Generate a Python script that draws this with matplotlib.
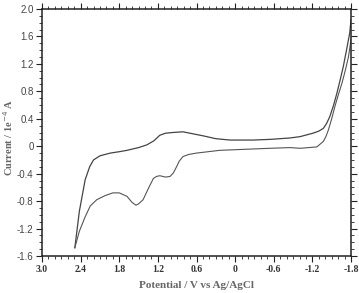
import matplotlib
matplotlib.use("Agg")
import matplotlib.pyplot as plt
from matplotlib.ticker import MultipleLocator, FixedLocator

# Anodic-to-cathodic (upper) branch: from the switching point at +2.49 V to -1.8 V
upper_potential = [2.49, 2.42, 2.33, 2.26, 2.20, 2.10, 1.94, 1.80, 1.68, 1.50, 1.37, 1.26,
                   1.17, 1.08, 0.97, 0.81, 0.65, 0.49, 0.30, 0.08, -0.28, -0.55, -0.85,
                   -1.01, -1.21, -1.30, -1.37, -1.42, -1.47, -1.53, -1.58, -1.63, -1.68,
                   -1.73, -1.78, -1.80]
upper_current = [-1.48, -0.95, -0.49, -0.30, -0.20, -0.14, -0.10, -0.08, -0.06, -0.02, 0.02, 0.08,
                 0.16, 0.19, 0.20, 0.21, 0.18, 0.15, 0.11, 0.09, 0.09, 0.10, 0.12,
                 0.14, 0.19, 0.22, 0.26, 0.33, 0.43, 0.60, 0.77, 0.96, 1.16,
                 1.40, 1.65, 1.84]

# Return (lower) branch: from -1.8 V back to +2.49 V
lower_potential = [-1.80, -1.76, -1.71, -1.66, -1.60, -1.55, -1.50, -1.45, -1.41, -1.37,
                   -1.27, -1.01, -0.85, -0.55, -0.28, 0.24, 0.60, 0.72, 0.81, 0.87,
                   0.91, 0.96, 1.01, 1.08, 1.17, 1.22, 1.27, 1.35, 1.43, 1.50, 1.54,
                   1.60, 1.68, 1.80, 1.90, 2.02, 2.15, 2.25, 2.33, 2.42, 2.49]
lower_current = [1.55, 1.30, 1.10, 0.92, 0.74, 0.58, 0.40, 0.24, 0.14, 0.07,
                 -0.01, -0.03, -0.02, -0.03, -0.04, -0.06, -0.10, -0.12, -0.15, -0.22,
                 -0.30, -0.39, -0.44, -0.45, -0.43, -0.44, -0.47, -0.62, -0.78, -0.84, -0.86,
                 -0.82, -0.73, -0.68, -0.68, -0.72, -0.78, -0.87, -1.03, -1.24, -1.48]

x_ticks = [3.0, 2.4, 1.8, 1.2, 0.6, 0.0, -0.6, -1.2, -1.8]
x_tick_labels = ["3.0", "2.4", "1.8", "1.2", "0.6", "0", "-0.6", "-1.2", "-1.8"]
y_ticks = [-1.6, -1.2, -0.8, -0.4, 0.0, 0.4, 0.8, 1.2, 1.6, 2.0]
y_tick_labels = ["-1.6", "-1.2", "-0.8", "-0.4", "0", "0.4", "0.8", "1.2", "1.6", "2.0"]

fig = plt.figure(figsize=(3.59, 2.93), dpi=100)
ax = fig.add_axes([42 / 359, 1 - 256 / 293, (351 - 42) / 359, (256 - 9) / 293])

ax.plot(upper_potential, upper_current, color="#444444", lw=0.9)
ax.plot(lower_potential, lower_current, color="#555555", lw=0.8)

ax.set_xlim(3.0, -1.8)
ax.set_ylim(-1.6, 2.0)

ax.xaxis.set_major_locator(FixedLocator(x_ticks))
ax.set_xticklabels(x_tick_labels)
ax.xaxis.set_minor_locator(MultipleLocator(0.1))
ax.yaxis.set_major_locator(FixedLocator(y_ticks))
ax.set_yticklabels(y_tick_labels)
ax.yaxis.set_minor_locator(MultipleLocator(0.1))

ax.tick_params(which="both", direction="out", top=True, right=True, width=0.8, color="#222222")
ax.tick_params(which="major", length=4)
ax.tick_params(which="minor", length=2.2, width=0.6)
ax.tick_params(axis="x", which="major", pad=2.5)
ax.tick_params(axis="y", which="major", pad=2)

for lab in ax.get_xticklabels():
    lab.set_family("Liberation Serif")
    lab.set_fontweight("bold")
    lab.set_fontsize(7)
    lab.set_color("#333333")
for lab in ax.get_yticklabels():
    lab.set_family("Liberation Sans")
    lab.set_fontsize(7)
    lab.set_color("#444444")

for sp in ax.spines.values():
    sp.set_linewidth(1.1)
    sp.set_color("#222222")

ax.set_xlabel("Potential / V vs Ag/AgCl", family="Liberation Serif", fontweight="bold",
              fontsize=8, color="#666666", labelpad=5)
ax.set_ylabel("Current / 1e$^{-4}$ A", family="Liberation Serif", fontweight="bold",
              fontsize=7.5, color="#666666")
ax.yaxis.set_label_coords(-0.088, 0.48)

fig.savefig("out.png", dpi=100)
